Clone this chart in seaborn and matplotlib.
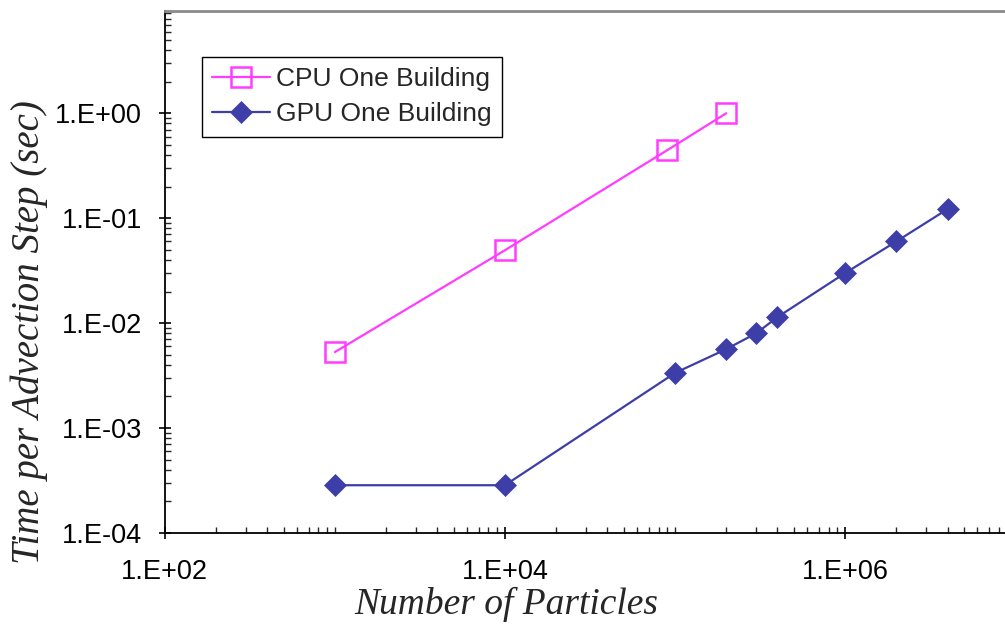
import numpy as np
import pandas as pd
import matplotlib
matplotlib.use("Agg")
import matplotlib.pyplot as plt
import matplotlib.ticker as mticker
import seaborn as sns

# ---- data ----
cpu_particles = [1.0e3, 1.0e4, 9.0e4, 2.0e5]
cpu_time = [5.3e-3, 4.95e-2, 0.445, 1.0]
gpu_particles = [1.0e3, 1.0e4, 1.0e5, 2.0e5, 3.0e5, 4.0e5, 1.0e6, 2.0e6, 4.0e6]
gpu_time = [2.85e-4, 2.85e-4, 3.35e-3, 5.65e-3, 8.0e-3, 1.14e-2, 3.0e-2, 6.0e-2, 0.122]
series_names = ["CPU One Building", "GPU One Building"]
x_major = [1e2, 1e4, 1e6]
x_major_labels = ["1.E+02", "1.E+04", "1.E+06"]
y_major = [1e-4, 1e-3, 1e-2, 1e-1, 1e0]
y_major_labels = ["1.E-04", "1.E-03", "1.E-02", "1.E-01", "1.E+00"]
x_title = "Number of Particles"
y_title = "Time per Advection Step (sec)"

sns.set_style("ticks")
plt.rcParams["font.family"] = ["Liberation Sans", "DejaVu Sans"]

fig = plt.figure(figsize=(10.05, 6.27), dpi=100)
ax = fig.add_axes([0.164, 0.150, 0.836, 0.8325])

cpu_df = pd.DataFrame({"x": cpu_particles, "y": cpu_time})
gpu_df = pd.DataFrame({"x": gpu_particles, "y": gpu_time})

sns.lineplot(data=cpu_df, x="x", y="y", ax=ax, color="#ff3cff", lw=1.6,
             marker="s", markersize=15, markerfacecolor="none",
             markeredgecolor="#ff3cff", markeredgewidth=1.8,
             label=series_names[0], errorbar=None)
sns.lineplot(data=gpu_df, x="x", y="y", ax=ax, color="#3d3ea8", lw=1.6,
             marker="D", markersize=11, markerfacecolor="#3d3ea8",
             markeredgecolor="#3d3ea8", markeredgewidth=0.5,
             label=series_names[1], errorbar=None)

ax.set_xscale("log")
ax.set_yscale("log")
ax.set_xlim(1e2, 10 ** 6.94)
ax.set_ylim(1e-4, 10 ** 0.975)

ax.xaxis.set_major_locator(mticker.FixedLocator(x_major))
ax.xaxis.set_major_formatter(mticker.FixedFormatter(x_major_labels))
ax.xaxis.set_minor_locator(mticker.LogLocator(base=10, subs=np.arange(1, 10), numticks=50))
ax.xaxis.set_minor_formatter(mticker.NullFormatter())
ax.yaxis.set_major_locator(mticker.FixedLocator(y_major))
ax.yaxis.set_major_formatter(mticker.FixedFormatter(y_major_labels))
ax.yaxis.set_minor_locator(mticker.LogLocator(base=10, subs=np.arange(2, 10), numticks=50))
ax.yaxis.set_minor_formatter(mticker.NullFormatter())

ax.tick_params(axis="both", which="major", direction="inout", length=9, width=1.2,
               labelsize=19.5, colors="black", pad=12)
ax.tick_params(axis="x", which="major", pad=14)
ax.tick_params(axis="both", which="minor", direction="in", length=4.5, width=1.0)

for s in ["left", "bottom"]:
    ax.spines[s].set_color("black")
    ax.spines[s].set_linewidth(1.3)
ax.spines["top"].set_color("#8a8a8a")
ax.spines["top"].set_linewidth(2.0)
ax.spines["right"].set_visible(False)

ax.set_xlabel(x_title, fontsize=27, family=["Liberation Serif", "DejaVu Serif"],
              style="italic")
ax.xaxis.set_label_coords(0.406, -0.104)
ax.set_ylabel(y_title, fontsize=28, family=["Liberation Serif", "DejaVu Serif"],
              style="italic")
ax.yaxis.set_label_coords(-0.139, 0.385)

leg = ax.legend(loc="upper left", bbox_to_anchor=(0.044, 0.912), fontsize=19,
                frameon=True, fancybox=False, framealpha=1, edgecolor="black",
                handlelength=2.2, handletextpad=0.2, borderpad=0.4,
                labelspacing=0.4, borderaxespad=0)
leg.get_frame().set_linewidth(1.0)

fig.savefig("out.png", dpi=100)
